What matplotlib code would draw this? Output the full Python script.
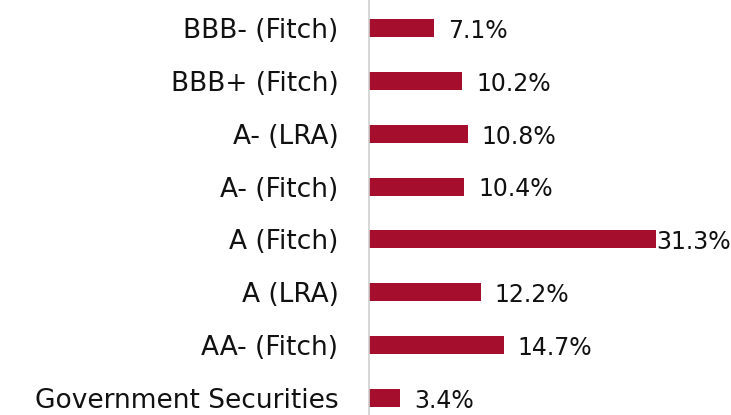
import matplotlib.pyplot as plt

categories = ['Government Securities', 'AA- (Fitch)', 'A (LRA)', 'A (Fitch)',
              'A- (Fitch)', 'A- (LRA)', 'BBB+ (Fitch)', 'BBB- (Fitch)']
values = [3.4, 14.7, 12.2, 31.3, 10.4, 10.8, 10.2, 7.1]

plt.rcParams['font.family'] = ['DejaVu Sans']

fig = plt.figure(figsize=(7.31, 4.15), dpi=100)
ax = fig.add_axes([369 / 731, 0, 362 / 731, 1])

pos = range(len(categories))
ax.barh(pos, values, height=0.34, color='#A50E2D')

ax.set_xlim(0, 39.5)
ax.set_ylim(-0.32, 7.53)
ax.set_yticks(list(pos))
ax.set_yticklabels(categories, fontsize=19, color='#111111')
ax.tick_params(axis='y', length=0, pad=22)
ax.set_xticks([])

for sp in ['top', 'right', 'bottom']:
    ax.spines[sp].set_visible(False)
ax.spines['left'].set_color('#d0d0d0')
ax.spines['left'].set_linewidth(1.2)

# labels, the biggest one sits tight against the bar end
for i, v in enumerate(values):
    off = 0.5 if v == max(values) else 10
    ax.annotate(f'{v}%', (v, i), xytext=(off, -2), textcoords='offset points',
                va='center', ha='left', fontsize=17, color='#111111')

fig.savefig('out.png', dpi=100)
